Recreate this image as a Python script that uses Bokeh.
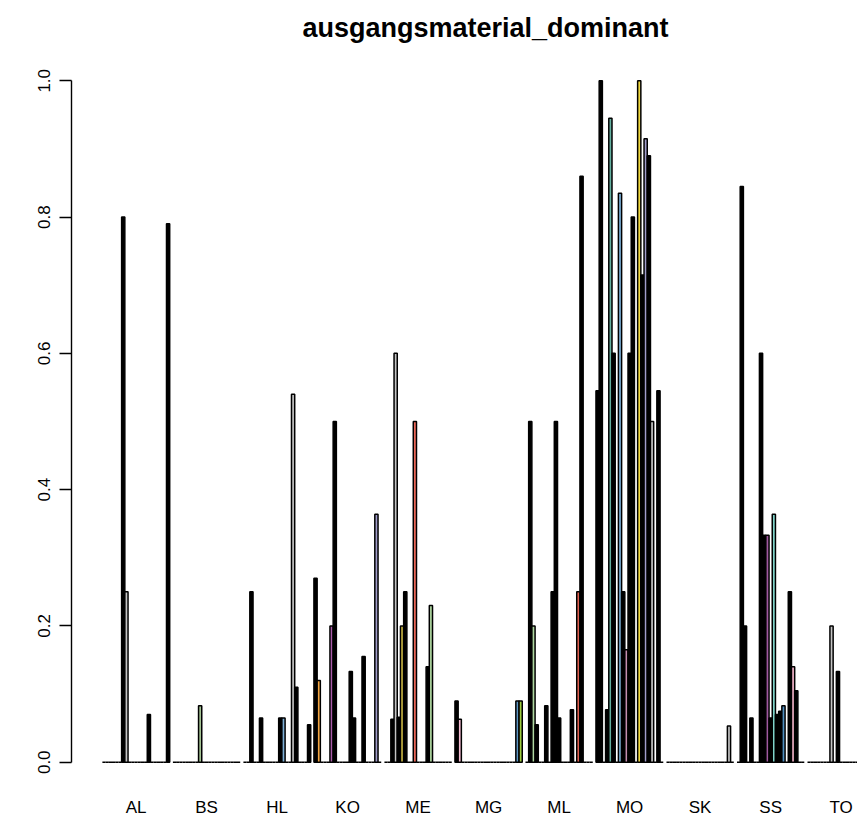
from bokeh.plotting import figure
from bokeh.models import Range1d, FixedTicker, ColumnDataSource
from bokeh.embed import file_html
from bokeh.resources import INLINE

GROUPS = ["AL", "BS", "HL", "KO", "ME", "MG", "ML", "MO", "SK", "SS", "TO"]
Y_TICKS = [0.0, 0.2, 0.4, 0.6, 0.8, 1.0]
TITLE = "ausgangsmaterial_dominant"

# 21 bars per group
AL = [0, 0, 0, 0, 0, 0, 0.80, 0.25, 0, 0, 0, 0, 0, 0, 0.07, 0, 0, 0, 0, 0, 0.79]
BS = [0, 0, 0, 0, 0, 0, 0, 0, 0.083, 0, 0, 0, 0, 0, 0, 0, 0, 0, 0, 0, 0]
HL = [0, 0, 0.25, 0, 0, 0.065, 0, 0, 0, 0, 0, 0.065, 0.065, 0, 0, 0.54, 0.11, 0, 0, 0, 0.055]
KO = [0.27, 0.12, 0, 0, 0, 0.2, 0.5, 0, 0, 0, 0, 0.133, 0.065, 0, 0, 0.155, 0, 0, 0, 0.364, 0]
ME = [0, 0, 0.063, 0.6, 0.066, 0.2, 0.25, 0, 0, 0.5, 0, 0, 0, 0.14, 0.23, 0, 0, 0, 0, 0, 0]
MG = [0.09, 0.063, 0, 0, 0, 0, 0, 0, 0, 0, 0, 0, 0, 0, 0, 0, 0, 0, 0, 0.09, 0.09]
ML = [0, 0.5, 0.2, 0.055, 0, 0, 0.083, 0, 0.25, 0.5, 0.065, 0, 0, 0, 0.077, 0, 0.25, 0.86, 0, 0, 0]
MO = [0.545, 1.0, 0, 0.077, 0.945, 0.6, 0, 0.835, 0.25, 0.165, 0.6, 0.8, 0, 1.0, 0.715, 0.915, 0.89, 0.5, 0, 0.545, 0]
SK = [0, 0, 0, 0, 0, 0, 0, 0, 0, 0, 0, 0, 0, 0, 0, 0, 0, 0, 0, 0.053, 0]
SS = [0, 0.845, 0.2, 0, 0.065, 0, 0, 0.6, 0.333, 0.333, 0.065, 0.364, 0.07, 0.075, 0.083, 0, 0.25, 0.14, 0.105, 0, 0]
TO = [0, 0, 0, 0, 0, 0, 0, 0.2, 0, 0.133, 0, 0, 0, 0, 0, 0, 0, 0, 0, 0, 0]
VALUES = [AL, BS, HL, KO, ME, MG, ML, MO, SK, SS, TO]

# fill colours of the non-black bars (bar index -> colour)
FILLS = {
    "AL": {7: "#c4c4c4"},
    "BS": {8: "#a3c293"},
    "HL": {12: "#7fb2d9", 15: "#c4c4c4"},
    "KO": {1: "#f2a644", 5: "#a95ca9", 19: "#a09cc9"},
    "ME": {3: "#c4c4c4", 5: "#c9b545", 9: "#f26b5b", 14: "#b0d9a2"},
    "MG": {1: "#f6bcd2", 19: "#5e97c6", 20: "#9ccc3c"},
    "ML": {2: "#b0d9a2", 16: "#e0604f"},
    "MO": {4: "#64b0a0", 7: "#7cb2da", 9: "#c58fb0", 13: "#f1d93e", 15: "#a09cc9", 17: "#c4c4c4"},
    "SK": {19: "#c4c4c4"},
    "SS": {9: "#a05aa0", 11: "#7fd3c9", 14: "#4f8fc0", 17: "#f2b3c9"},
    "TO": {7: "#c4c4c4"},
}

nbar = len(AL)
period = nbar + 1
xs, tops, cols = [], [], []
for g, (name, vals) in enumerate(zip(GROUPS, VALUES)):
    for i, v in enumerate(vals):
        xs.append(g * period + 1 + i + 0.5)
        tops.append(v)
        cols.append(FILLS[name].get(i, "#000000"))
centers = [g * period + 1 + nbar / 2 for g in range(len(GROUPS))]

p = figure(width=857, height=819, output_backend="svg", toolbar_location=None,
           x_range=Range1d(-8.64, 236.6), y_range=Range1d(-0.04, 1.04),
           min_border_left=71, min_border_right=0, min_border_top=53, min_border_bottom=29)
p.background_fill_color = "white"
p.border_fill_color = "white"
p.outline_line_color = None
p.grid.visible = False

src = ColumnDataSource(dict(x=xs, top=tops, col=cols))
p.vbar(x="x", width=1, top="top", bottom=0, source=src,
       fill_color="col", line_color="black", line_width=1.5)

# title
p.title.text = TITLE
p.title.text_font = "Liberation Sans"
p.title.text_font_style = "bold"
p.title.text_font_size = "27px"
p.title.text_color = "black"
p.title.align = "left"
p.title.offset = 231
p.title.standoff = 21

# y axis
ya = p.yaxis[0]
ya.ticker = FixedTicker(ticks=Y_TICKS)
ya.major_label_overrides = {t: "%.1f" % t for t in Y_TICKS}
ya.bounds = (0, 1)
ya.major_label_orientation = "vertical"
ya.major_tick_out = 12
ya.major_tick_in = 0
ya.minor_tick_line_color = None
ya.axis_line_width = 1.4
ya.major_tick_line_width = 1.4
ya.major_label_text_font = "Liberation Sans"
ya.major_label_text_font_size = "17px"
ya.major_label_text_color = "black"
ya.major_label_standoff = 9

# x axis (group names only)
xa = p.xaxis[0]
xa.ticker = FixedTicker(ticks=centers)
xa.major_label_overrides = {c: n for c, n in zip(centers, GROUPS)}
xa.axis_line_color = None
xa.major_tick_line_color = None
xa.minor_tick_line_color = None
xa.major_tick_out = 0
xa.major_label_text_font = "Liberation Sans"
xa.major_label_text_font_size = "17px"
xa.major_label_text_color = "black"
xa.major_label_standoff = 8

open("out.html", "w").write(file_html(p, INLINE))
